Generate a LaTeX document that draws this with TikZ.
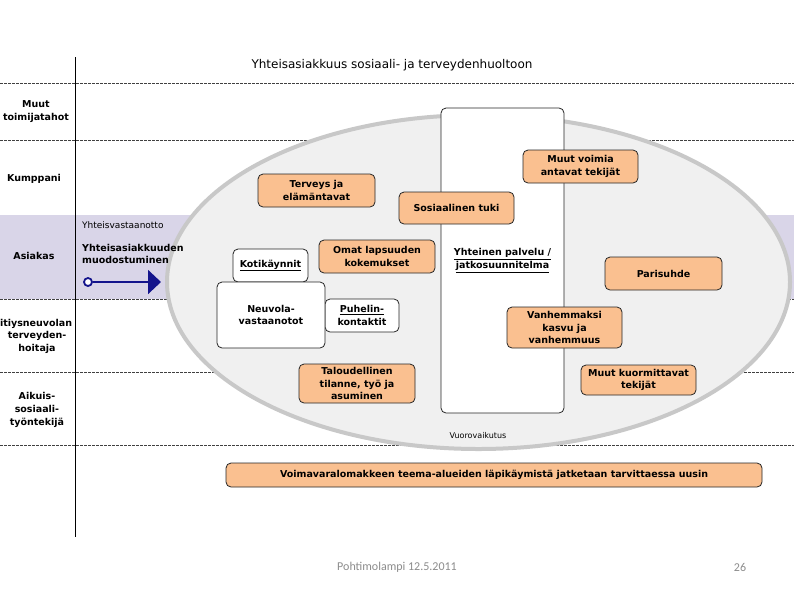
\documentclass[tikz,border=0pt]{standalone}
\usepackage{fontspec}
\setmainfont{DejaVu Sans}
\newfontfamily\carl{Carlito}
\usetikzlibrary{arrows.meta}
\definecolor{orng}{RGB}{250,192,144}
\definecolor{bandc}{RGB}{217,213,232}
\definecolor{ellfill}{RGB}{240,240,240}
\definecolor{elledge}{RGB}{200,200,200}
\definecolor{navyc}{RGB}{20,20,140}
\begin{document}
\begin{tikzpicture}[x=1pt,y=-1pt,
 obox/.style={draw=black!85, fill=orng, rounded corners=5pt, line width=0.8pt, align=center, font=\fontsize{9.5}{12.5}\selectfont\bfseries, inner sep=0pt},
 wbox/.style={obox, fill=white},
 lbl/.style={align=center, font=\fontsize{9.5}{13}\selectfont\bfseries, inner sep=0pt},
 dline/.style={dash pattern=on 2.5pt off 1.5pt, line width=0.7pt, draw=black!75}]

\useasboundingbox (0,0) rectangle (794,595);
\fill[white] (0,0) rectangle (794,595);
\fill[bandc] (0,215) rectangle (794,299);

\foreach \yy in {83,140,299,372,445} \draw[dline] (0,\yy) -- (794,\yy);

\draw[fill=ellfill, draw=elledge, line width=4pt] (478.5,282) ellipse [x radius=311.5pt, y radius=167pt];

\draw[line width=1pt] (75,57) -- (75,537);

% title
\node[font=\fontsize{12}{14}\selectfont] (title) at (392,65) {Yhteisasiakkuus sosiaali- ja terveydenhuoltoon};

% left labels
\node[lbl] (muut) at (36,111.5) {Muut\\toimijatahot};
\node[lbl] (kumppani) at (34,178.5) {Kumppani};
\node[lbl] (asiakas) at (34,256) {Asiakas};
\node[lbl, anchor=west] (aitiys) at (-7.5,323) {Äitiysneuvolan};
\node[lbl] (thoitaja) at (37,342.5) {terveyden-\\hoitaja};
\node[lbl] (aikuis) at (37,410) {Aikuis-\\sosiaali-\\työntekijä};

% Asiakas band content
\node[anchor=west, font=\fontsize{9}{10}\selectfont, inner sep=0pt] (yv) at (82,225) {Yhteisvastaanotto};
\node[anchor=west, align=left, font=\fontsize{9.5}{12}\selectfont\bfseries, inner sep=0pt] (ym) at (82,254) {Yhteisasiakkuuden\\muodostuminen};
\coordinate (atip) at (161,282);
\node[circle, draw=navyc, line width=1.8pt, fill=white, minimum size=8pt, inner sep=0pt] (acirc) at (88,282) {};
\draw[navyc, line width=2pt, -{Triangle[length=13pt,width=24pt]}] (acirc) -- (atip);

% tall white box
\node[wbox, minimum width=123pt, minimum height=305pt] (yhteinen) at (502.5,260.5) {\underline{Yhteinen palvelu /}\\\underline{jatkosuunnitelma}};

% white boxes
\node[wbox, minimum width=75pt, minimum height=33pt] (koti) at (270.5,265.5) {\underline{Kotikäynnit}};
\node[wbox, minimum width=74pt, minimum height=33pt] (puhelin) at (362,315.5) {\underline{Puhelin-}\\kontaktit};
\node[wbox, minimum width=108pt, minimum height=66pt] (neuvola) at (271,315) {Neuvola-\\vastaanotot};

% orange boxes
\node[obox, minimum width=117pt, minimum height=33pt] (terveys) at (316.5,190.5) {Terveys ja\\elämäntavat};
\node[obox, minimum width=115pt, minimum height=32pt] (sostuki) at (456.5,208) {Sosiaalinen tuki};
\node[obox, minimum width=115pt, minimum height=33pt] (muutvoimia) at (580.5,166.5) {Muut voimia\\antavat tekijät};
\node[obox, minimum width=116pt, minimum height=33pt] (omat) at (377,256.5) {Omat lapsuuden\\kokemukset};
\node[obox, minimum width=116pt, minimum height=39pt] (talous) at (357,383.5) {Taloudellinen\\tilanne, työ ja\\asuminen};
\node[obox, minimum width=117pt, minimum height=33pt] (parisuhde) at (663.5,273.5) {Parisuhde};
\node[obox, minimum width=115pt, minimum height=41pt] (vanhemm) at (564.5,327.5) {Vanhemmaksi\\kasvu ja\\vanhemmuus};
\node[obox, minimum width=115pt, minimum height=30pt] (kuorm) at (638.5,380) {Muut kuormittavat\\tekijät};

\node[font=\fontsize{8}{9}\selectfont] (vv) at (478,436) {Vuorovaikutus};

\node[obox, minimum width=536pt, minimum height=24pt] (bottom) at (494,475) {Voimavaralomakkeen teema-alueiden läpikäymistä jatketaan tarvittaessa uusin};

% footer
\node[font=\carl\fontsize{12}{14}\selectfont, text=black!45] (foot) at (397,567) {Pohtimolampi 12.5.2011};
\node[font=\carl\fontsize{12}{14}\selectfont, text=black!45] (page) at (740,567) {26};
\end{tikzpicture}
\end{document}
